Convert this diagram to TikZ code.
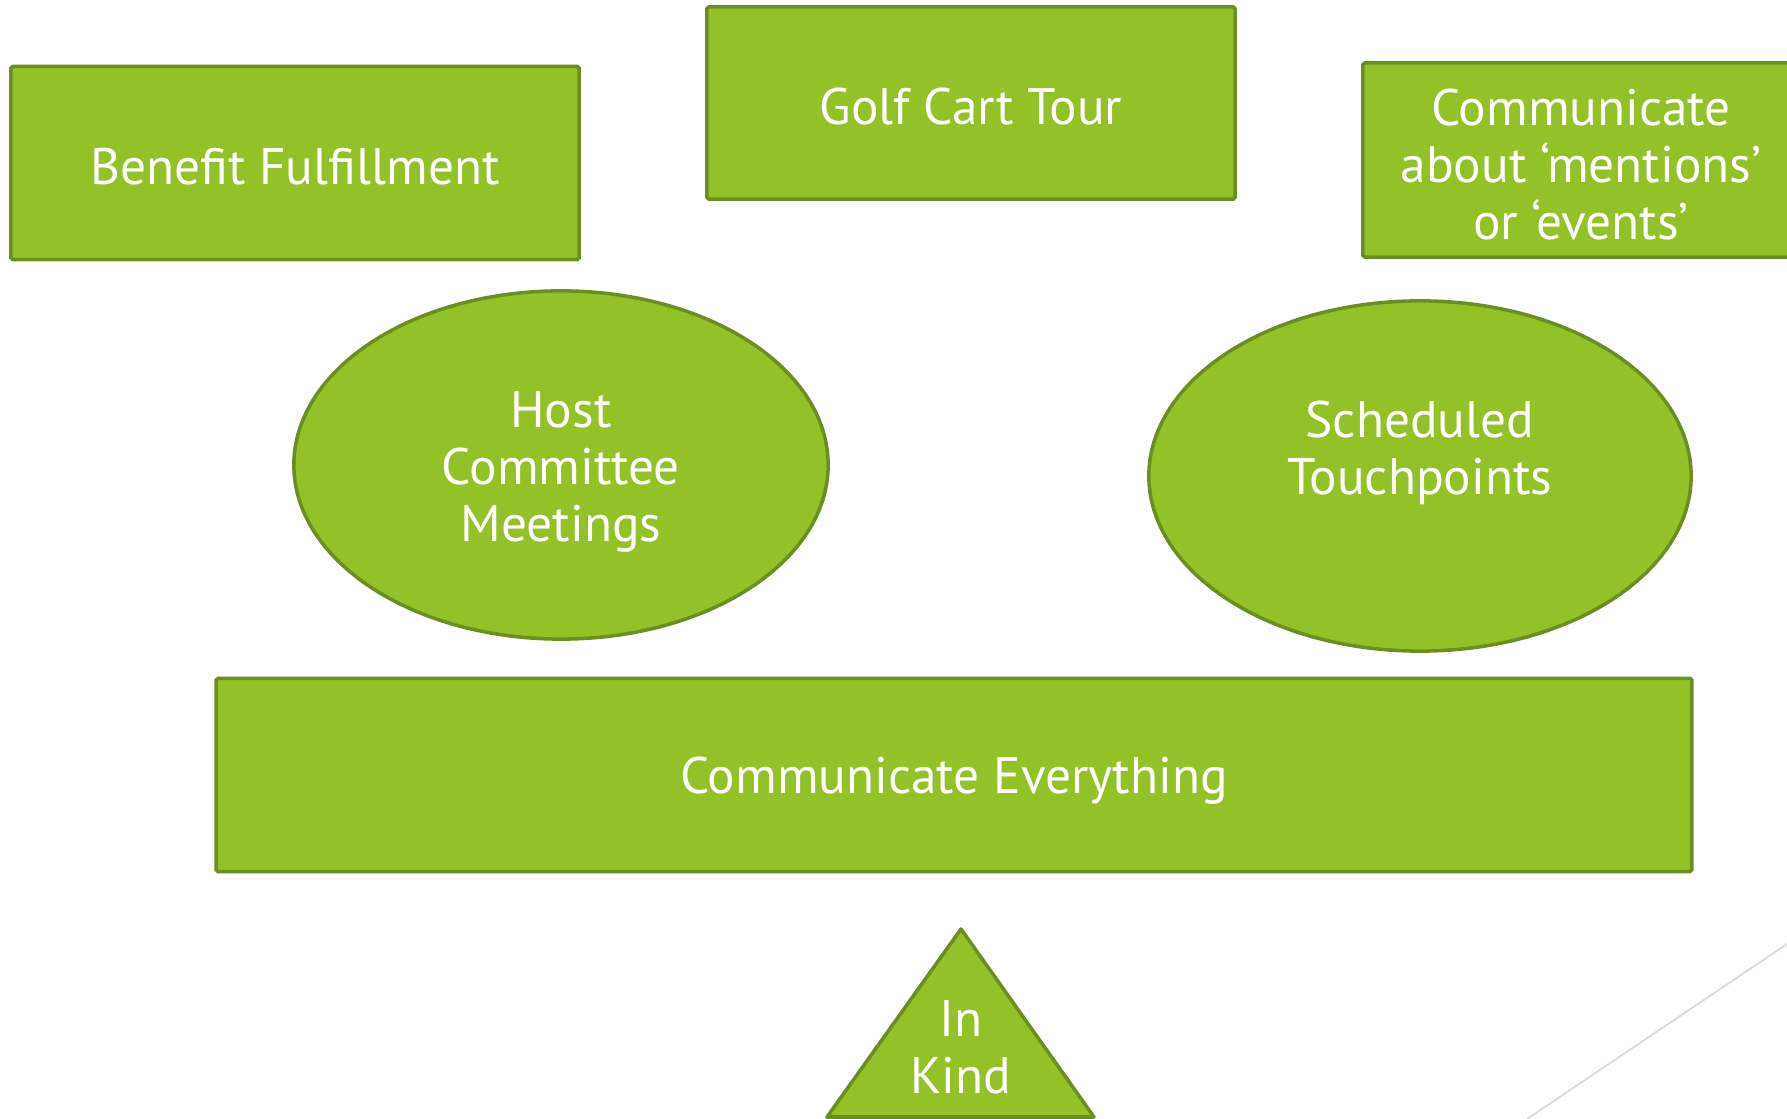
\documentclass[tikz,border=0pt]{standalone}
\usepackage{fontspec}
\setmainfont{PT Sans}
\usepackage{tikz}
\usetikzlibrary{shapes.geometric}

\definecolor{leaf}{RGB}{146,193,40}
\definecolor{leafdark}{RGB}{107,142,35}
\definecolor{rulegray}{RGB}{217,217,217}

\begin{document}
\begin{tikzpicture}[x=0.01cm,y=-0.01cm]
    \tikzstyle{myBox}=[rectangle, draw=leafdark, fill=leaf, line width=1pt,
        rounded corners=0.5pt, inner sep=0pt, text=white, align=center,
        font=\fontsize{14.6}{16.2}\selectfont]
    \tikzstyle{myEll}=[myBox, ellipse]
    \tikzstyle{myTxt}=[text=white, align=center, inner sep=0pt,
        font=\fontsize{14.6}{16.2}\selectfont]

    \useasboundingbox (0,0) rectangle (1787,1119);

    % top row
    \node[myBox, minimum width=5.68cm, minimum height=1.93cm] (bf) at (295,163) {};
    \node[myTxt] (bftxt) at (295,167) {Benefit Fulfillment};
    \node[myBox, minimum width=5.28cm, minimum height=1.92cm] (gct) at (971,103) {};
    \node[myTxt] (gcttxt) at (971,107) {Golf Cart Tour};
    \node[myBox, minimum width=4.36cm, minimum height=1.94cm] (cam) at (1581,160) {};
    \node[myTxt] (camtxt) at (1581,165) {Communicate\\about `mentions'\\or `events'};

    % middle row
    \node[myEll, minimum width=5.34cm, minimum height=3.48cm] (hcm) at (561,465) {};
    \node[myTxt] (hcmtxt) at (561,472) {Host\\Committee\\Meetings};
    \node[myEll, minimum width=5.42cm, minimum height=3.50cm] (st) at (1420,476) {};
    \node[myTxt] (sttxt) at (1420,453) {Scheduled\\Touchpoints};

    % bottom
    \node[myBox, minimum width=14.75cm, minimum height=1.93cm] (ce) at (954,775) {};
    \node[myTxt] (cetxt) at (954,781) {Communicate Everything};
    \draw[draw=leafdark, fill=leaf, line width=1pt, line join=round]
        (961,929) coordinate (ikTop) -- (1094,1117) -- (827,1117) -- cycle;
    \node[myTxt] (ik) at (961,1047) {In\\Kind};

    \draw[rulegray, line width=0.5pt] (1527,1119) -- (1900,868);
\end{tikzpicture}
\end{document}
